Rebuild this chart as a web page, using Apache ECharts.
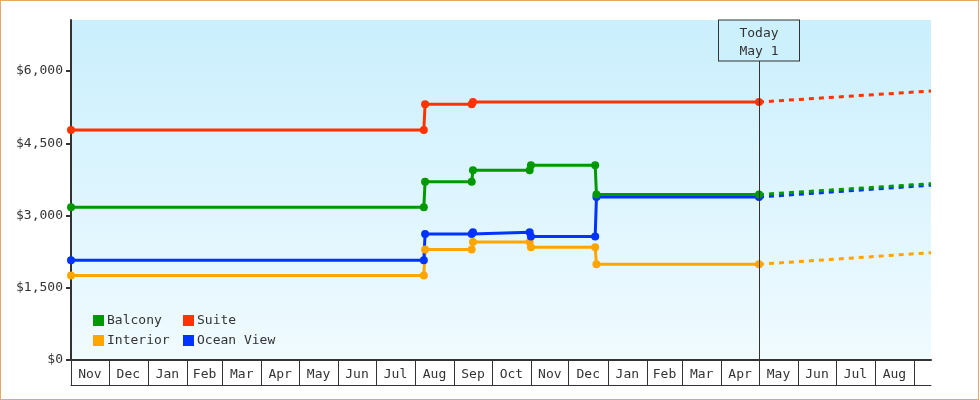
<!DOCTYPE html>
<html>
<head>
<meta charset="utf-8">
<script src="https://cdn.jsdelivr.net/npm/echarts@6/dist/echarts.min.js"></script>
<style>
html,body{margin:0;padding:0;background:#fff;}
#chart{position:absolute;left:0;top:0;width:980px;height:400px;}
#frame{position:absolute;left:0;top:0;width:977px;height:398px;border:1px solid #e8a863;pointer-events:none;}
</style>
</head>
<body>
<div id="chart"></div>
<div id="frame"></div>
<script>
// ---- data ----
const monthLabels = ['Nov','Dec','Jan','Feb','Mar','Apr','May','Jun','Jul','Aug','Sep','Oct','Nov','Dec','Jan','Feb','Mar','Apr','May','Jun','Jul','Aug'];
const yTicks = [0, 1500, 3000, 4500, 6000];
const axisStartDate = '2021-11-01';
const todayDate = '2023-05-01';
const todayText = 'Today\nMay 1';

const suiteDates = ['2021-11-01','2022-08-08','2022-08-09','2022-09-15','2022-09-16','2023-05-01'];
const suiteValues = [4775, 4775, 5309, 5309, 5356, 5356];

const stepDates = ['2021-11-01','2022-08-08','2022-08-09','2022-09-15','2022-09-16','2022-10-31','2022-11-01','2022-12-22','2022-12-23','2023-05-01'];
const balconyValues   = [3170, 3170, 3702, 3702, 3940, 3940, 4042, 4042, 3435, 3435];
const oceanViewValues = [2070, 2070, 2616, 2616, 2650, 2650, 2565, 2565, 3384, 3384];
const interiorValues  = [1755, 1755, 2295, 2295, 2450, 2450, 2339, 2339, 1987, 1987];

// forecast end values (at right edge of the axis)
const forecastEnd = { Suite: 5585, Balcony: 3660, 'Ocean View': 3630, Interior: 2228 };

const colors = { Balcony: '#009900', Suite: '#ff3300', Interior: '#ffa500', 'Ocean View': '#0033ff' };

// ---- helpers ----
const T0 = Date.parse(axisStartDate);
const T1 = Date.UTC(2023, 8, 14, 12);
const TODAY = Date.parse(todayDate);
const monthStarts = [];
for (let i = 0; i <= monthLabels.length; i++) monthStarts.push(Date.UTC(2021, 10 + i, 1));
const monthMids = [];
for (let i = 0; i < monthLabels.length; i++) monthMids.push((monthStarts[i] + monthStarts[i + 1]) / 2);

function pts(dates, vals) { return dates.map((d, i) => [Date.parse(d), vals[i]]); }

const Y_MAX = 6000 * 340 / 289;
const TODAY_BOX_BOTTOM = Y_MAX * (299.5 / 340);

const FONT = 'DejaVu Sans Mono';

function mainSeries(name, dates, vals, extra) {
  return Object.assign({
    name: name, type: 'line', data: pts(dates, vals),
    symbol: 'circle', symbolSize: 8, showSymbol: true,
    lineStyle: { color: colors[name], width: 3 },
    itemStyle: { color: colors[name] },
    emphasis: { disabled: true },
    animation: false
  }, extra || {});
}
function forecastSeries(name, lastVal) {
  return {
    name: name, type: 'line', data: [[TODAY, lastVal], [T1, forecastEnd[name]]],
    symbol: 'none',
    lineStyle: { color: colors[name], width: 3, type: [5, 5] },
    itemStyle: { color: colors[name] },
    emphasis: { disabled: true },
    animation: false
  };
}

const legendCommon = {
  orient: 'vertical', top: 314, padding: 0, itemWidth: 11, itemHeight: 11, itemGap: 7,
  icon: 'rect', selectedMode: false,
  textStyle: { fontFamily: FONT, fontSize: 13, color: '#333', padding: [0, 0, 0, -2] }
};

const chart = echarts.init(document.getElementById('chart'), null, { renderer: 'canvas' });
const option = {
  animation: false,
  textStyle: { fontFamily: FONT, fontSize: 13, color: '#333' },
  grid: {
    left: 71, right: 49, top: 20, bottom: 40, show: true, borderWidth: 0,
    backgroundColor: { type: 'linear', x: 0, y: 0, x2: 0, y2: 1,
      colorStops: [{ offset: 0, color: '#caeffd' }, { offset: 1, color: '#f0fbff' }] }
  },
  legend: [
    Object.assign({ data: ['Balcony', 'Interior'], left: 93 }, legendCommon),
    Object.assign({ data: ['Suite', 'Ocean View'], left: 183 }, legendCommon)
  ],
  xAxis: [
    {
      type: 'value', min: T0, max: T1, scale: true,
      axisLine: { show: true, lineStyle: { color: '#333', width: 2 } },
      axisTick: { show: true, customValues: monthStarts, length: 25, lineStyle: { color: '#333', width: 1 } },
      axisLabel: {
        customValues: monthMids, margin: 8, color: '#333', fontFamily: FONT, fontSize: 13,
        formatter: function (v) {
          for (let i = 0; i < monthMids.length; i++) if (Math.abs(monthMids[i] - v) < 1e6) return monthLabels[i];
          return '';
        }
      },
      splitLine: { show: false }
    },
    {
      type: 'value', min: T0, max: T1, scale: true, position: 'bottom', offset: 25,
      axisLine: { show: true, lineStyle: { color: '#333', width: 1 } },
      axisTick: { show: false }, axisLabel: { show: false }, splitLine: { show: false }
    }
  ],
  yAxis: {
    type: 'value', min: 0, max: Y_MAX,
    axisLine: { show: true, lineStyle: { color: '#333', width: 2 } },
    axisTick: { show: true, customValues: yTicks, length: 5, lineStyle: { color: '#333', width: 2 } },
    axisLabel: { customValues: yTicks, margin: 8, color: '#333', fontFamily: FONT, fontSize: 13,
      formatter: function (v) { return '$' + Math.round(v).toLocaleString('en-US'); } },
    splitLine: { show: false }
  },
  series: [
    forecastSeries('Interior', interiorValues[interiorValues.length - 1]),
    forecastSeries('Ocean View', oceanViewValues[oceanViewValues.length - 1]),
    forecastSeries('Balcony', balconyValues[balconyValues.length - 1]),
    forecastSeries('Suite', suiteValues[suiteValues.length - 1]),
    mainSeries('Interior', stepDates, interiorValues),
    mainSeries('Ocean View', stepDates, oceanViewValues),
    mainSeries('Balcony', stepDates, balconyValues),
    mainSeries('Suite', suiteDates, suiteValues, {
      markLine: {
        silent: true, symbol: ['none', 'none'], animation: false,
        lineStyle: { color: '#333', width: 1, type: 'solid' },
        emphasis: { disabled: true },
        label: {
          show: true, position: 'end', distance: 0, formatter: todayText,
          color: '#333', fontFamily: FONT, fontSize: 13, lineHeight: 18,
          width: 80, align: 'center', padding: [4, 0, 0, 0],
          backgroundColor: '#ccf0fc', borderColor: '#333', borderWidth: 1
        },
        data: [[{ coord: [TODAY, 0] }, { coord: [TODAY, TODAY_BOX_BOTTOM] }]]
      },
      z: 3
    })
  ]
};
chart.setOption(option);
</script>
</body>
</html>
